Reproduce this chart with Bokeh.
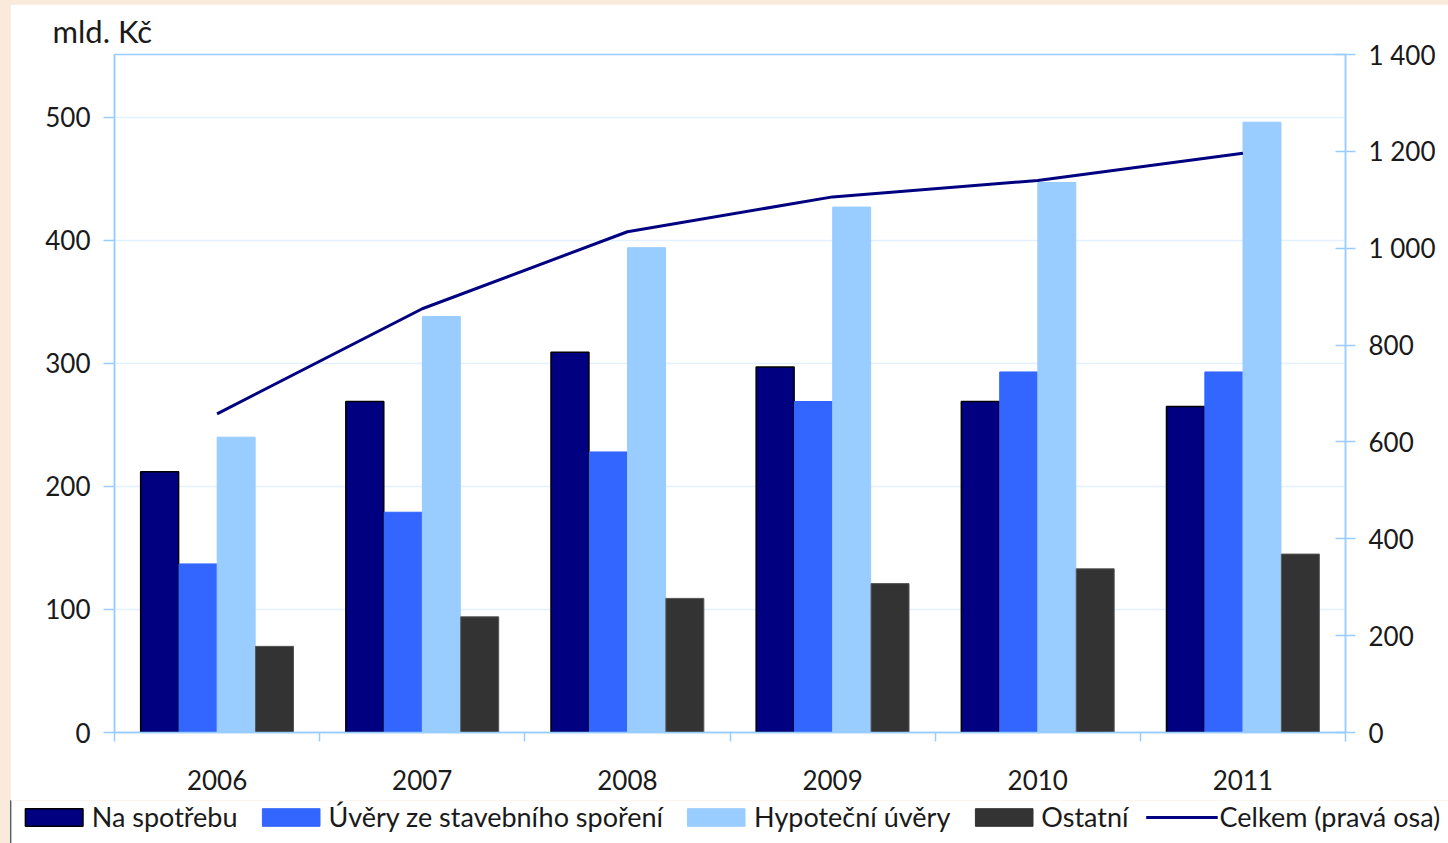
from bokeh.plotting import figure
from bokeh.models import (Range1d, LinearAxis, FixedTicker, Legend, LegendItem, Grid)
from bokeh.embed import file_html
from bokeh.resources import INLINE

years = ["2006", "2007", "2008", "2009", "2010", "2011"]
na_spotrebu = [212, 269, 309, 297, 269, 265]
stavebni = [137, 179, 228, 269, 293, 293]
hypotecni = [240, 338, 394, 427, 447, 496]
ostatni = [70, 94, 109, 121, 133, 145]
celkem = [658, 875, 1034, 1106, 1140, 1196]

left_ticks = [0, 100, 200, 300, 400, 500]
right_ticks = [0, 200, 400, 600, 800, 1000, 1200, 1400]
right_tick_labels = ["0", "200", "400", "600", "800", "1 000", "1 200", "1 400"]

FONT = "Lato"
TXT = "#1a1a1a"
AXC = "#99CCFF"
C1, C2, C3, C4 = "#000080", "#3366FF", "#99CCFF", "#333333"

p = figure(width=1438, height=796, x_range=Range1d(0, 6), y_range=Range1d(0, 551),
           output_backend="svg", toolbar_location=None,
           min_border_left=104, min_border_right=103, min_border_top=49, min_border_bottom=68,
           x_axis_type=None, y_axis_type=None)
p.extra_y_ranges = {"right": Range1d(0, 1400)}
p.background_fill_color = "white"
p.border_fill_color = "white"
p.outline_line_color = AXC
p.outline_line_width = 1.5

ly = LinearAxis(ticker=FixedTicker(ticks=left_ticks))
ly.axis_line_color = AXC
ly.axis_line_width = 1.5
ly.major_tick_line_color = AXC
ly.major_tick_line_width = 1.5
ly.major_tick_out = 11
ly.major_tick_in = 0
ly.minor_tick_line_color = None
ly.major_label_standoff = 13
ly.major_label_text_font = FONT
ly.major_label_text_font_size = "26px"
ly.major_label_text_color = TXT
p.add_layout(ly, "left")

ry = LinearAxis(y_range_name="right", ticker=FixedTicker(ticks=right_ticks))
ry.major_label_overrides = {t: s for t, s in zip(right_ticks, right_tick_labels)}
ry.axis_line_color = AXC
ry.axis_line_width = 1.5
ry.major_tick_line_color = AXC
ry.major_tick_line_width = 1.5
ry.major_tick_out = 10
ry.major_tick_in = 10
ry.minor_tick_line_color = None
ry.major_label_standoff = 13
ry.major_label_text_font = FONT
ry.major_label_text_font_size = "26px"
ry.major_label_text_color = TXT
p.add_layout(ry, "right")

centers = [i + 0.5 for i in range(len(years))]
bx = LinearAxis(ticker=FixedTicker(ticks=centers, minor_ticks=list(range(len(years) + 1))))
bx.major_label_overrides = {c: y for c, y in zip(centers, years)}
bx.axis_line_color = AXC
bx.axis_line_width = 1.5
bx.major_tick_line_color = None
bx.minor_tick_line_color = AXC
bx.minor_tick_line_width = 1.5
bx.minor_tick_out = 9
bx.minor_tick_in = 0
bx.major_label_standoff = 28
bx.major_label_text_font = FONT
bx.major_label_text_font_size = "26px"
bx.major_label_text_color = TXT
p.add_layout(bx, "below")

g = Grid(dimension=1, ticker=FixedTicker(ticks=left_ticks))
g.grid_line_color = "#E3F0FF"
g.grid_line_width = 1.5
p.add_layout(g)

w = 0.185
offs = [-0.28, -0.093, 0.093, 0.28]
p.vbar(x=[c + offs[0] for c in centers], top=na_spotrebu, width=w,
       fill_color=C1, line_color="#000000", line_width=1.5)
p.vbar(x=[c + offs[1] for c in centers], top=stavebni, width=w,
       fill_color=C2, line_color=C2, line_width=1)
p.vbar(x=[c + offs[2] for c in centers], top=hypotecni, width=w,
       fill_color=C3, line_color=C3, line_width=1)
p.vbar(x=[c + offs[3] for c in centers], top=ostatni, width=w,
       fill_color=C4, line_color="#555555", line_width=1)
p.line(x=centers, y=celkem, y_range_name="right", line_color=C1, line_width=3)

p.title.text = "mld. Kč"
p.title.text_font = FONT
p.title.text_font_size = "31px"
p.title.text_font_style = "normal"
p.title.text_color = TXT
p.title.align = "left"
p.title.offset = -62

# legend strip (separate root, so its frame is not aligned with the chart's)
lf = figure(width=1438, height=43, x_range=Range1d(0, 1), y_range=Range1d(0, 1),
            output_backend="svg", toolbar_location=None, min_border=0,
            x_axis_type=None, y_axis_type=None)
lf.outline_line_color = None
lf.background_fill_color = "white"
lf.border_fill_color = "white"
lf.xgrid.visible = False
lf.ygrid.visible = False
e1 = lf.vbar(x=[-5], top=[1], width=0.1, fill_color=C1, line_color="#000000", line_width=1.5)
e2 = lf.vbar(x=[-5], top=[1], width=0.1, fill_color=C2, line_color=C2)
e3 = lf.vbar(x=[-5], top=[1], width=0.1, fill_color=C3, line_color=C3)
e4 = lf.vbar(x=[-5], top=[1], width=0.1, fill_color=C4, line_color=C4)
e5 = lf.line(x=[-6, -5], y=[0.5, 0.5], line_color=C1, line_width=3)
legend = Legend(items=[
    LegendItem(label="Na spotřebu", renderers=[e1]),
    LegendItem(label="Úvěry ze stavebního spoření", renderers=[e2]),
    LegendItem(label="Hypoteční úvěry", renderers=[e3]),
    LegendItem(label="Ostatní", renderers=[e4]),
    LegendItem(label="Celkem (pravá osa)", renderers=[e5]),
], orientation="horizontal", location="top_center")
legend.glyph_width = 72
legend.glyph_height = 22
legend.label_standoff = 2
legend.spacing = 17
legend.padding = 0
legend.margin = 0
legend.border_line_color = None
legend.background_fill_alpha = 0
legend.label_text_font = FONT
legend.label_text_font_size = "27px"
legend.label_text_color = TXT
lf.add_layout(legend)

html = file_html([p, lf], INLINE, title="chart")
html = html.replace("</head>", "<style>html{background:#F9EADB;} body{margin:4px 0 0 10px !important;background:#F9EADB;overflow:hidden;}</style></head>", 1)
open("out.html", "w").write(html)
